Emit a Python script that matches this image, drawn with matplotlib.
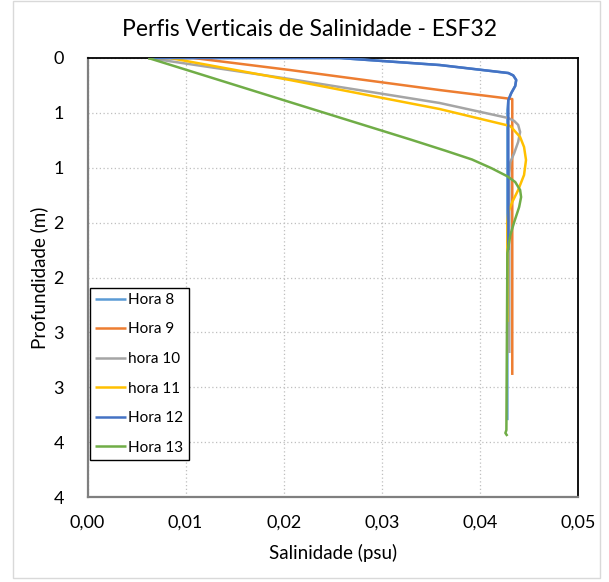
import matplotlib

matplotlib.use("Agg")
import matplotlib.pyplot as plt
from matplotlib.patches import Rectangle

plt.rcParams["font.family"] = ["Lato", "DejaVu Sans"]

# perfis (salinidade em psu, profundidade em m)
h8_sal = [0.0062, 0.0257, 0.0359, 0.0429, 0.0434, 0.0437, 0.0436, 0.0432, 0.0429, 0.0428, 0.0428]
h8_dep = [0.0, 0.0, 0.064, 0.137, 0.159, 0.200, 0.255, 0.319, 0.383, 0.474, 3.30]

h9_sal = [0.0062, 0.0108, 0.0206, 0.0359, 0.0433, 0.0433]
h9_dep = [0.0, 0.0, 0.109, 0.292, 0.374, 2.888]

h10_sal = [0.0062, 0.0206, 0.0359, 0.0429, 0.0435, 0.0439, 0.0441, 0.0439, 0.0435, 0.0431, 0.0430, 0.0430]
h10_dep = [0.0, 0.191, 0.410, 0.547, 0.574, 0.610, 0.674, 0.765, 0.866, 0.948, 1.05, 2.688]

h11_sal = [0.0062, 0.0084, 0.0206, 0.0359, 0.0431, 0.0441, 0.0445, 0.0447, 0.0445, 0.0439, 0.0433, 0.0429, 0.0428, 0.0428]
h11_dep = [0.0, 0.0, 0.200, 0.465, 0.620, 0.720, 0.811, 0.929, 1.066, 1.203, 1.312, 1.403, 1.50, 2.405]

h12_sal = [0.0062, 0.0257, 0.0359, 0.0429, 0.0434, 0.0437, 0.0436, 0.0432, 0.0429, 0.0429, 0.0429]
h12_dep = [0.0, 0.0, 0.064, 0.137, 0.159, 0.200, 0.255, 0.319, 0.383, 0.474, 1.749]

h13_sal = [0.0062, 0.0206, 0.0330, 0.0365, 0.0392, 0.0412, 0.0428, 0.0436, 0.0441, 0.0442,
           0.0440, 0.0435, 0.0431, 0.0428, 0.0427, 0.0426, 0.0428]
h13_dep = [0.0, 0.401, 0.745, 0.845, 0.925, 1.005, 1.078, 1.130, 1.203, 1.267,
           1.358, 1.494, 1.613, 1.777, 3.39, 3.417, 3.444]

series = [
    ("Hora 8", h8_sal, h8_dep, "#5b9bd5"),
    ("Hora 9", h9_sal, h9_dep, "#ed7d31"),
    ("hora 10", h10_sal, h10_dep, "#a5a5a5"),
    ("hora 11", h11_sal, h11_dep, "#ffc000"),
    ("Hora 12", h12_sal, h12_dep, "#4472c4"),
    ("Hora 13", h13_sal, h13_dep, "#70ad47"),
]

x_ticks = [0.00, 0.01, 0.02, 0.03, 0.04, 0.05]
x_ticklabels = ["0,00", "0,01", "0,02", "0,03", "0,04", "0,05"]
y_ticks = [0.0, 0.5, 1.0, 1.5, 2.0, 2.5, 3.0, 3.5, 4.0]
y_ticklabels = ["0", "1", "1", "2", "2", "3", "3", "4", "4"]

GRID = "#bfbfbf"

fig = plt.figure(figsize=(6.09, 5.82), dpi=100)
fig.patch.set_facecolor("white")
# moldura do grafico (estilo Excel)
fig.patches.append(Rectangle((13 / 609, 4 / 582), 587 / 609, 577 / 582,
                             transform=fig.transFigure, fill=False,
                             edgecolor="#d9d9d9", linewidth=1.0))

ax = fig.add_axes([87.5 / 609, 1 - 497 / 582, 490.5 / 609, 439 / 582])
for name, sal, dep, col in series:
    ax.plot(sal, dep, color=col, linewidth=1.8, label=name, zorder=3,
            solid_capstyle="butt")

ax.set_xlim(0, 0.05)
ax.set_ylim(4, 0)
ax.set_xticks(x_ticks)
ax.set_xticklabels(x_ticklabels)
ax.set_yticks(y_ticks)
ax.set_yticklabels(y_ticklabels)
ax.tick_params(length=0, labelsize=13, colors="#000000")
ax.tick_params(axis="x", pad=13)
ax.tick_params(axis="y", pad=17)
ax.grid(True, color=GRID, linestyle=(0, (1, 2)), linewidth=0.9, zorder=0)

for side in ("top", "right"):
    ax.spines[side].set_color("#000000")
    ax.spines[side].set_linewidth(1.3)
for side in ("left", "bottom"):
    ax.spines[side].set_color("#7f7f7f")
    ax.spines[side].set_linewidth(1.6)

ax.set_xlabel("Salinidade (psu)", fontsize=13.5, labelpad=9)
ax.set_ylabel("Profundidade (m)", fontsize=13.5, labelpad=4)
fig.text(310 / 609, 1 - 30 / 582, "Perfis Verticais de Salinidade - ESF32",
         ha="center", va="center", fontsize=16.5)

leg = ax.legend(loc="lower left", bbox_to_anchor=(0.005, 0.084),
                borderaxespad=0, fontsize=11, frameon=True, fancybox=False,
                edgecolor="#000000", framealpha=1, handlelength=2.0,
                handletextpad=0.15, labelspacing=1.02, borderpad=0.35)
leg.get_frame().set_linewidth(1.0)

fig.savefig("out.png", dpi=100, facecolor="white")
